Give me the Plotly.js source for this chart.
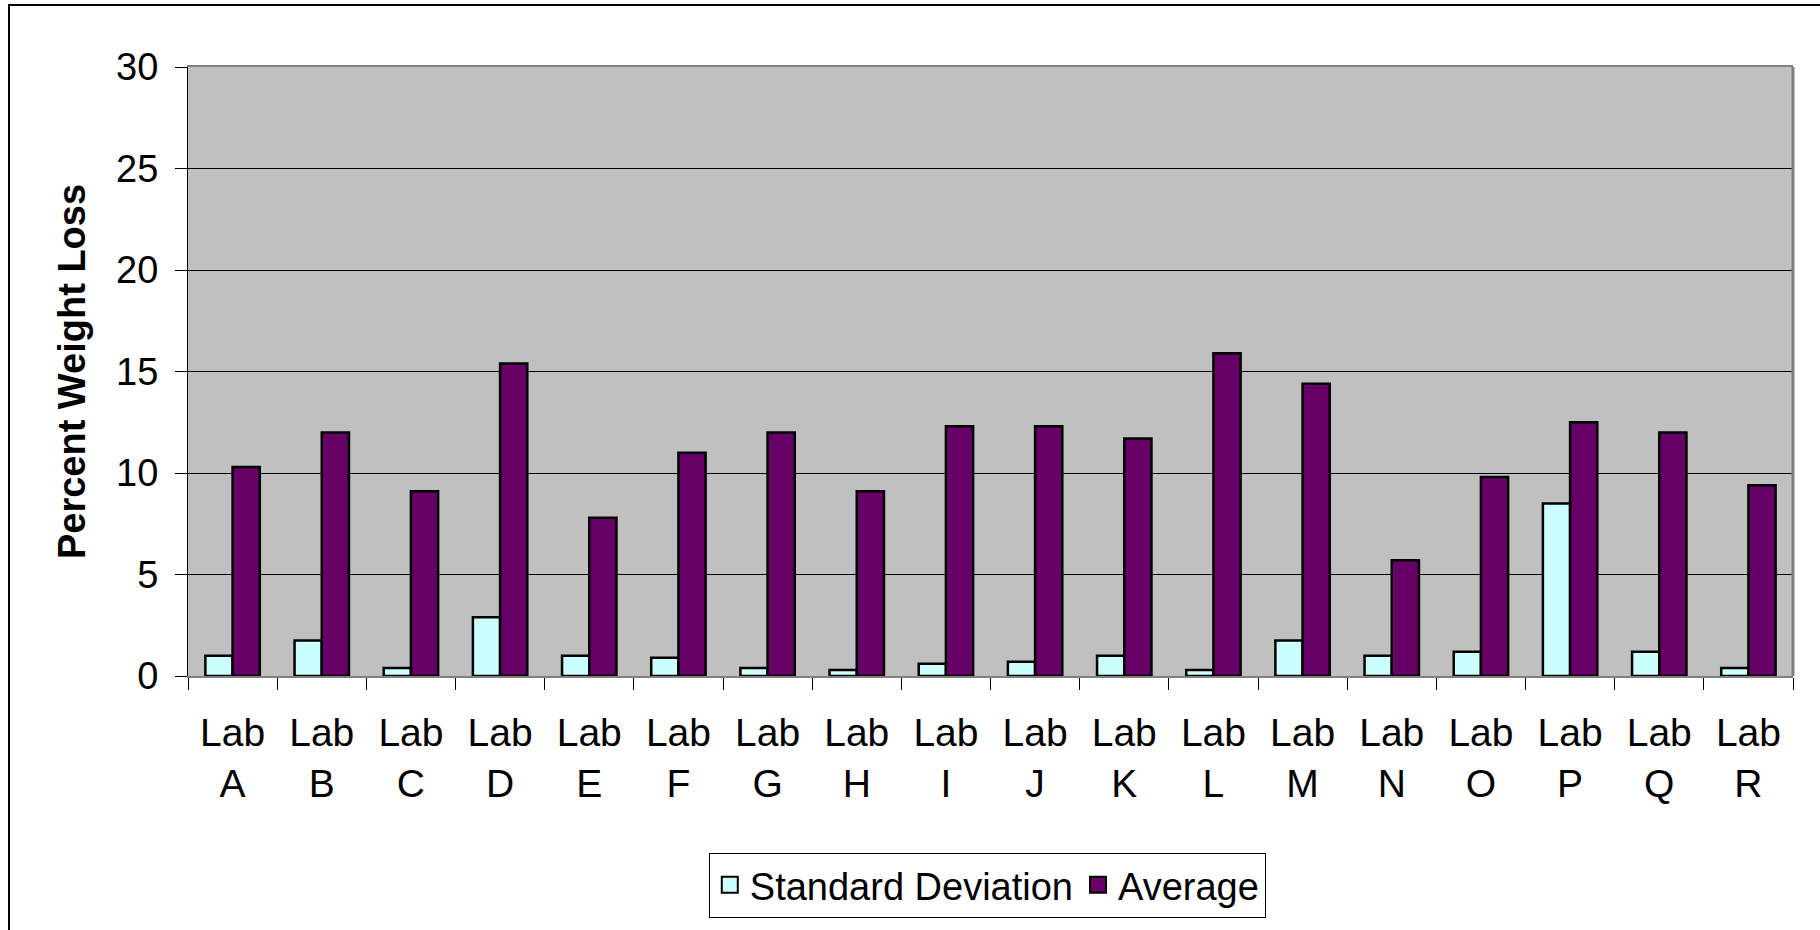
<!DOCTYPE html>
<html>
<head>
<meta charset="utf-8">
<script src="https://cdn.plot.ly/plotly-3.0.1.min.js"></script>
<style>
  html, body { margin: 0; padding: 0; background: #fff; }
  #chart { width: 1820px; height: 930px; position: absolute; left: 0; top: 0; }
  #frame { position: absolute; left: 8px; top: 4px; width: 1830px; height: 940px;
           border-left: 2px solid #000; border-top: 2px solid #000; pointer-events: none; }
</style>
</head>
<body>
<div id="chart"></div>
<div id="frame"></div>
<script>
const categories = ["Lab<br>A","Lab<br>B","Lab<br>C","Lab<br>D","Lab<br>E","Lab<br>F","Lab<br>G","Lab<br>H","Lab<br>I","Lab<br>J","Lab<br>K","Lab<br>L","Lab<br>M","Lab<br>N","Lab<br>O","Lab<br>P","Lab<br>Q","Lab<br>R"];
const stdDev  = [1.0, 1.75, 0.4, 2.9, 1.0, 0.9, 0.4, 0.3, 0.6, 0.7, 1.0, 0.3, 1.75, 1.0, 1.2, 8.5, 1.2, 0.4];
const average = [10.3, 12.0, 9.1, 15.4, 7.8, 11.0, 12.0, 9.1, 12.3, 12.3, 11.7, 15.9, 14.4, 5.7, 9.8, 12.5, 12.0, 9.4];
const yTicks = [0, 5, 10, 15, 20, 25, 30];
const seriesNames = ["Standard Deviation", "Average"];
const seriesColors = ["#CCFFFF", "#660066"];

const fontFamily = "Arial, 'Liberation Sans', sans-serif";

const traces = [
  { type: "bar", name: seriesNames[0], x: categories, y: stdDev, showlegend: false,
    marker: { color: seriesColors[0], line: { color: "#000", width: 2.5 } } },
  { type: "bar", name: seriesNames[1], x: categories, y: average, showlegend: false,
    marker: { color: seriesColors[1], line: { color: "#000", width: 2.5 } } },
  // legend-only entries (larger square swatches like the reference)
  { type: "scatter", mode: "markers", name: seriesNames[0], x: [null], y: [null],
    marker: { symbol: "square", size: 16, color: seriesColors[0], line: { color: "#000", width: 2 } } },
  { type: "scatter", mode: "markers", name: seriesNames[1], x: [null], y: [null],
    marker: { symbol: "square", size: 16, color: seriesColors[1], line: { color: "#000", width: 2 } } }
];

const layout = {
  width: 1820, height: 930,
  margin: { l: 188, r: 27, t: 67, b: 252 },
  paper_bgcolor: "#fff",
  plot_bgcolor: "#C0C0C0",
  font: { family: fontFamily, size: 38, color: "#000" },
  barmode: "group",
  bargap: 0.39,
  bargroupgap: 0,
  showlegend: true,
  legend: {
    orientation: "h", x: 0.498, xanchor: "center", y: -0.29, yanchor: "top",
    bordercolor: "#000", borderwidth: 1, bgcolor: "#fff",
    font: { family: fontFamily, size: 38, color: "#000" },
    itemwidth: 30, tracegroupgap: 0
  },
  xaxis: {
    type: "category",
    tickson: "boundaries",
    ticks: "outside", ticklen: 12, tickcolor: "#000", tickwidth: 1,
    showline: true, linecolor: "#808080", linewidth: 2, mirror: true,
    showgrid: false, zeroline: false,
    tickfont: { family: fontFamily, size: 39, color: "#000" },
    tickangle: 0,
    ticklabelstandoff: 21
  },
  yaxis: {
    range: [0, 30],
    tickvals: yTicks,
    ticktext: yTicks.map(String),
    ticks: "outside", ticklen: 12, tickcolor: "#000", tickwidth: 1,
    showline: true, linecolor: "#000", linewidth: 1,
    showgrid: true, gridcolor: "#000", gridwidth: 1,
    zeroline: false,
    tickfont: { family: fontFamily, size: 38, color: "#000" },
    ticklabelstandoff: 9,
    title: { text: "<b>Percent Weight Loss</b>", font: { family: fontFamily, size: 38, color: "#000" }, standoff: 18 }
  },
  shapes: [
    { type: "line", xref: "paper", yref: "paper", x0: 1, x1: 1, y0: 0, y1: 1,
      line: { color: "#808080", width: 3 } }
  ]
};

Plotly.newPlot("chart", traces, layout, { displayModeBar: false, staticPlot: true });
</script>
</body>
</html>
